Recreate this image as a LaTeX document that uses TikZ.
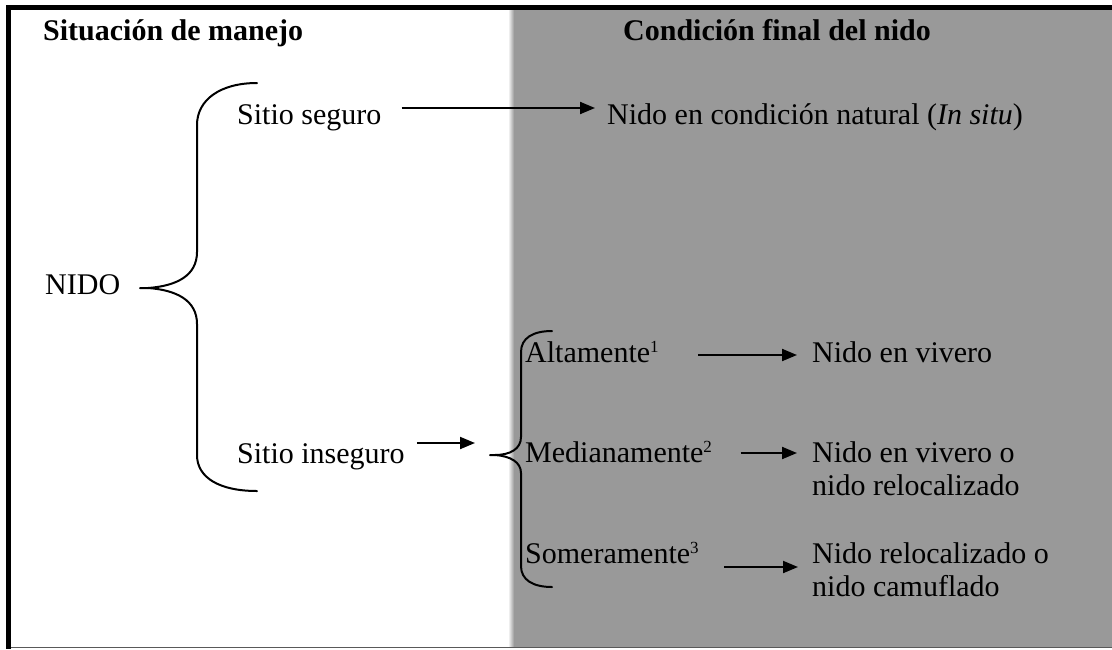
\documentclass[tikz,border=0pt]{standalone}
\usepackage{fontspec}
\setmainfont{Liberation Serif}
\usepackage{tikz}
\usetikzlibrary{arrows.meta,calc}
\definecolor{panelgray}{HTML}{999999}
\newcommand{\supnum}[1]{\textsuperscript{\fontsize{17}{17}\selectfont #1}}

\begin{document}
\begin{tikzpicture}[x=1pt,y=-1pt,
    lbl/.style={anchor=base west,inner sep=0pt,font=\fontsize{30}{33}\selectfont},
    head/.style={lbl,font=\fontsize{30}{33}\selectfont\bfseries},
    brace/.style={line width=2pt,line cap=round},
    arr/.style={line width=2pt,-{Triangle[length=15pt,width=12pt]}}]
    \useasboundingbox (0,0) rectangle (1112,649);

    % Panels
    \fill[white] (0,0) rectangle (513,649);
    \fill[panelgray] (513,8) rectangle (1112,647);
    \shade[left color=white,right color=panelgray] (508,8) rectangle (514,647);

    % Frame
    \draw[line width=5pt] (6,7.5) -- (1112,7.5);
    \draw[line width=5pt] (8.5,5) -- (8.5,649);
    \draw[gray!70!black,line width=1.5pt] (11,647.5) -- (1112,647.5);

    % Headings
    \node[head] (manejo) at (43,40) {Situación de manejo};
    \node[head] (condicion) at (623,40) {Condición final del nido};

    % Left column
    \node[lbl] (nido) at (45,294) {NIDO};
    \node[lbl] (seguro) at (237,124) {Sitio seguro};
    \node[lbl] (inseguro) at (237,463) {Sitio inseguro};

    % Big brace
    \draw[brace] (257,83) .. controls (220,83) and (197,100) .. (197,125) -- (197,252)
        .. controls (197,276) and (176,286) .. (148,288) -- (140,288);
    \draw[brace] (148,288) .. controls (176,290) and (197,300) .. (197,324) -- (197,455)
        .. controls (197,478) and (220,491) .. (257,491);

    % Degree of insecurity
    \coordinate (cusp) at (490,455);
    \node[lbl] (alta) at (525,362) {Altamente\supnum{1}};
    \node[lbl] (media) at (525,462) {Medianamente\supnum{2}};
    \node[lbl] (somera) at (525,563) {Someramente\supnum{3}};

    % Small brace
    \draw[brace] (552,331) .. controls (533,331) and (521,338) .. (521,352) -- (521,437)
        .. controls (521,449) and (510,455) .. (495,455) -- (cusp);
    \draw[brace] (495,455) .. controls (510,456) and (521,462) .. (521,473) -- (521,566)
        .. controls (521,580) and (533,587) .. (552,587);

    % Final condition (base = last line)
    \node[lbl] (natural) at (607,124) {Nido en condición natural (\textit{In situ})};
    \node[lbl] (vivero) at (812,362) {Nido en vivero};
    \node[lbl,align=left] (vivreloc) at (812,495) {Nido en vivero o\\nido relocalizado};
    \node[lbl,align=left] (relcam) at (812,596) {Nido relocalizado o\\nido camuflado};

    % Arrows
    \draw[arr] ($(seguro.base east)+(20,-16)$) -- ($(natural.base west)+(-12,-16)$);
    \draw[arr] ($(inseguro.base east)+(12,-20)$) -- ($(cusp)+(-15,-12)$);
    \draw[arr] ($(alta.base east)+(39,-7)$) -- ($(vivero.base west)+(-15,-7)$);
    \draw[arr] ($(media.base east)+(28,-9)$) -- ($(vivreloc.west |- media.base)+(-15,-9)$);
    \draw[arr] ($(somera.base east)+(25,4)$) -- ($(relcam.west |- somera.base)+(-14,4)$);
\end{tikzpicture}
\end{document}
